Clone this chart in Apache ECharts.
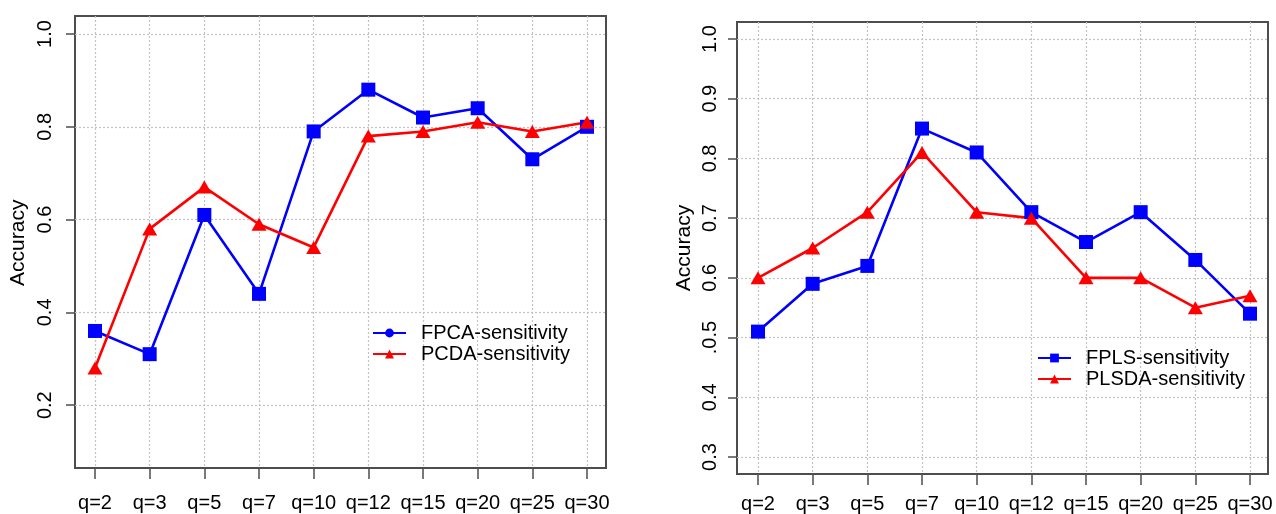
<!DOCTYPE html>
<html>
<head>
<meta charset="utf-8">
<script src="https://cdn.jsdelivr.net/npm/echarts@6/dist/echarts.min.js"></script>
<style>
html, body { margin: 0; padding: 0; background: #fff; }
#chart { width: 1276px; height: 514px; }
</style>
</head>
<body>
<div id="chart"></div>
<script>
// data
const categories = ['q=2', 'q=3', 'q=5', 'q=7', 'q=10', 'q=12', 'q=15', 'q=20', 'q=25', 'q=30'];
const fpcaSens  = [0.36, 0.31, 0.61, 0.44, 0.79, 0.88, 0.82, 0.84, 0.73, 0.80];
const pcdaSens  = [0.28, 0.58, 0.67, 0.59, 0.54, 0.78, 0.79, 0.81, 0.79, 0.81];
const fplsSens  = [0.51, 0.59, 0.62, 0.85, 0.81, 0.71, 0.66, 0.71, 0.63, 0.54];
const plsdaSens = [0.60, 0.65, 0.71, 0.81, 0.71, 0.70, 0.60, 0.60, 0.55, 0.57];
const leftTicks  = [0.2, 0.4, 0.6, 0.8, 1.0];
const rightTicks = [0.3, 0.4, 0.5, 0.6, 0.7, 0.8, 0.9, 1.0];

const FONT = 'Liberation Sans, Arial, sans-serif';
const BLUE = '#0000ff';
const RED = '#ff0000';
const AXIS_COLOR = '#4d4d4d';
const gridLine = { show: true, lineStyle: { color: '#c2c2c2', type: [2, 2], width: 1.2 } };

// pixel layout of each panel: frame box, pixel rows of the lowest/highest gridline
const panels = [
  { frame: { left: 75, top: 16, right: 606, bottom: 468 }, ref: { top: 34, bottom: 451.6, min: 0.1, max: 1.0 },
    catLeft: 95, catRight: 587, ticks: leftTicks, labelMargin: 20, nameGap: 46, xMargin: 25 },
  { frame: { left: 737, top: 22, right: 1268, bottom: 474 }, ref: { top: 39, bottom: 457, min: 0.3, max: 1.0 },
    catLeft: 758, catRight: 1250, ticks: rightTicks, labelMargin: 17, nameGap: 42, xMargin: 20 }
];

function valueAt(p, px) {
  const r = p.ref;
  return r.max - (px - r.top) / (r.bottom - r.top) * (r.max - r.min);
}

const grids = [], xAxes = [], yAxes = [];
panels.forEach((p, i) => {
  const f = p.frame;
  // frame
  grids.push({ left: f.left, top: f.top, width: f.right - f.left, height: f.bottom - f.top,
    show: true, borderColor: AXIS_COLOR, borderWidth: 2 });
  xAxes.push({ gridIndex: grids.length - 1, type: 'value', show: false });
  yAxes.push({ gridIndex: grids.length - 1, type: 'value', show: false });

  // y scale with dotted gridlines and labels
  grids.push({ left: f.left, top: p.ref.top, width: f.right - f.left, height: p.ref.bottom - p.ref.top });
  xAxes.push({ gridIndex: grids.length - 1, type: 'value', show: false });
  yAxes.push({
    gridIndex: grids.length - 1, type: 'value',
    min: p.ref.min, max: p.ref.max, interval: 0.1,
    axisLine: { show: false },
    axisTick: { show: true, customValues: p.ticks, length: 9, lineStyle: { color: AXIS_COLOR, width: 1.5 } },
    axisLabel: {
      customValues: p.ticks, rotate: 90, margin: p.labelMargin,
      fontSize: 20, fontFamily: FONT, color: '#000',
      formatter: v => (i === 1 && Math.abs(v - 0.5) < 1e-6) ? '.0.5' : v.toFixed(1)
    },
    splitLine: gridLine,
    name: 'Accuracy', nameLocation: 'middle', nameRotate: 90, nameGap: p.nameGap,
    nameTextStyle: { fontSize: 21, fontFamily: FONT, color: '#000' }
  });

  // data area: categories from first to last tick
  grids.push({ left: p.catLeft, top: f.top, width: p.catRight - p.catLeft, height: f.bottom - f.top });
  xAxes.push({
    gridIndex: grids.length - 1, type: 'category', data: categories, boundaryGap: false,
    axisLine: { show: false, onZero: false },
    axisTick: { show: true, length: 11, lineStyle: { color: AXIS_COLOR, width: 1.5 } },
    axisLabel: { interval: 0, margin: p.xMargin, fontSize: 20, fontFamily: FONT, color: '#000' },
    splitLine: gridLine
  });
  yAxes.push({ gridIndex: grids.length - 1, type: 'value', show: false,
    min: valueAt(p, f.bottom), max: valueAt(p, f.top) });
});

function lineSeries(name, data, axis, color, symbol, size) {
  return {
    name: name, type: 'line', xAxisIndex: axis, yAxisIndex: axis, data: data,
    symbol: symbol, symbolSize: size,
    lineStyle: { color: color, width: 2.6 },
    itemStyle: { color: color },
    z: 3
  };
}

const legendText = { fontSize: 20, fontFamily: FONT, color: '#000', padding: [0, 0, 0, 10] };

const option = {
  animation: false,
  backgroundColor: '#fff',
  grid: grids,
  xAxis: xAxes,
  yAxis: yAxes,
  legend: [
    { orient: 'vertical', left: 372, top: 323, padding: 0, itemWidth: 33, itemHeight: 11, itemGap: 1,
      data: ['FPCA-sensitivity', 'PCDA-sensitivity'], textStyle: legendText },
    { orient: 'vertical', left: 1037, top: 348, padding: 0, itemWidth: 33, itemHeight: 11, itemGap: 1,
      data: ['FPLS-sensitivity', 'PLSDA-sensitivity'], textStyle: legendText }
  ],
  series: [
    // empty series only to give the left legend its round marker
    lineSeries('FPCA-sensitivity', [], 2, BLUE, 'circle', 10),
    lineSeries('FPCA-sensitivity', fpcaSens, 2, BLUE, 'rect', 14),
    lineSeries('PCDA-sensitivity', pcdaSens, 2, RED, 'triangle', [15, 13]),
    lineSeries('FPLS-sensitivity', fplsSens, 5, BLUE, 'rect', 14),
    lineSeries('PLSDA-sensitivity', plsdaSens, 5, RED, 'triangle', [15, 13])
  ]
};

const myChart = echarts.init(document.getElementById('chart'));
myChart.setOption(option);
</script>
</body>
</html>
